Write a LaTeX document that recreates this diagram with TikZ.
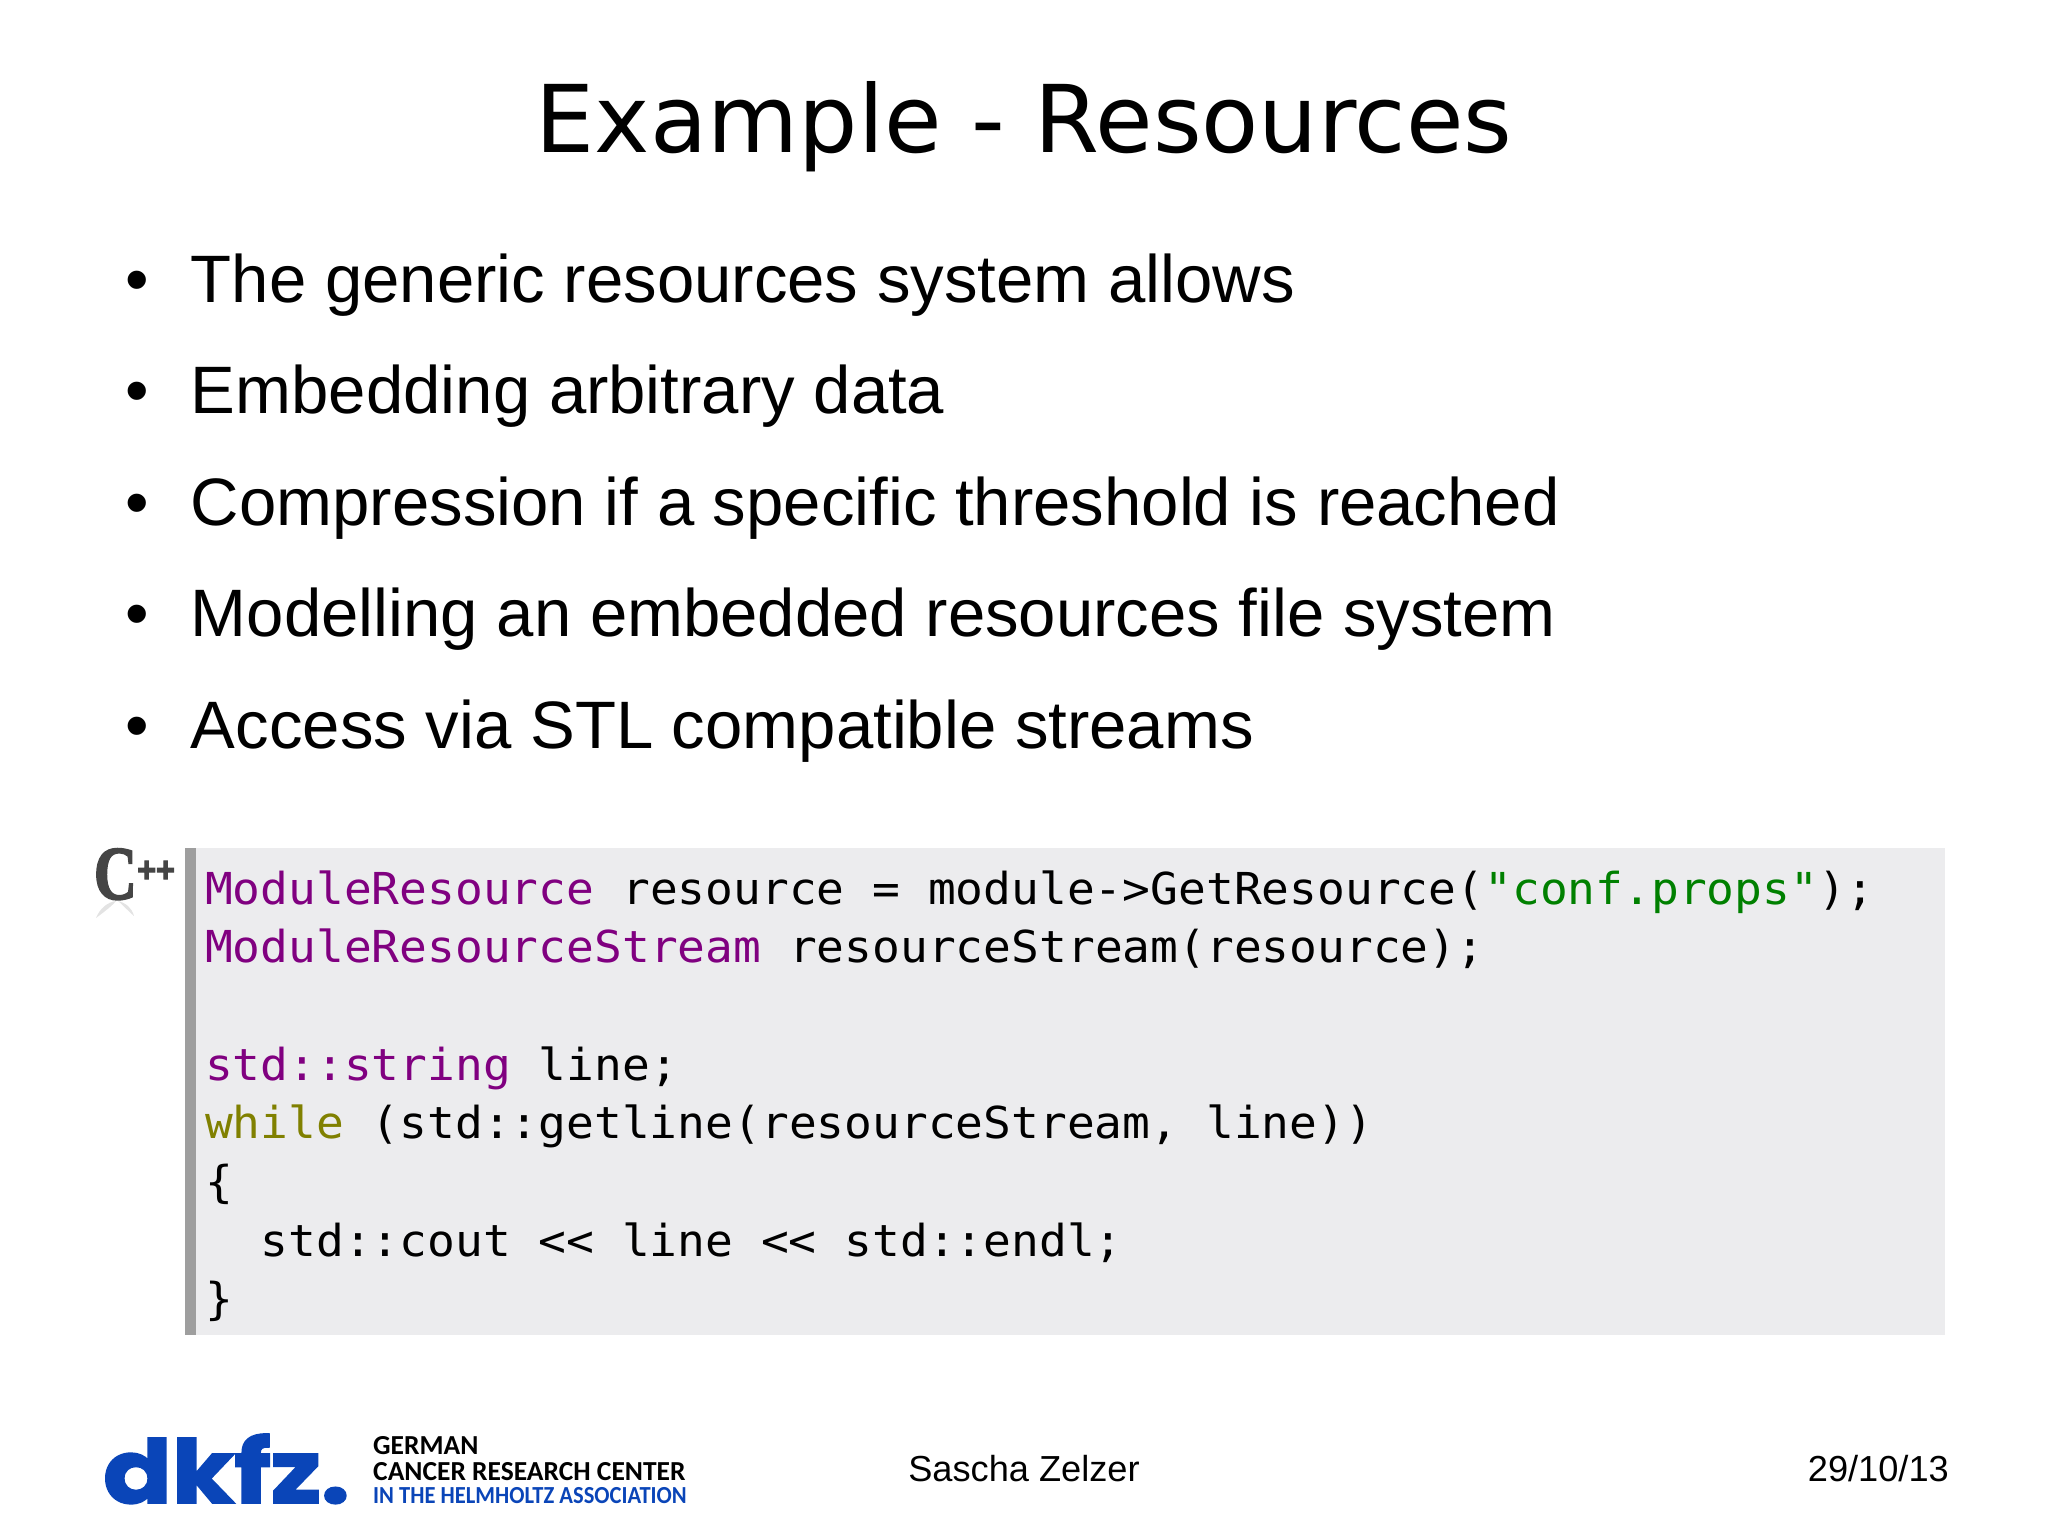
\documentclass[tikz,border=0pt]{standalone}
\usepackage{fontspec}
\usetikzlibrary{calc}
\setmainfont{Liberation Sans}
\newfontfamily\titlefont{DejaVu Sans}
\newfontfamily\codefont{DejaVu Sans Mono}[FakeStretch=1.05]
\newfontfamily\logofont{Poppins}[BoldFeatures={FakeBold=2}]
\newfontfamily\orgfont{Carlito}
\newfontfamily\markfont{Liberation Serif}[BoldFeatures={FakeBold=2.5}]
\newfontfamily\plusfont{Liberation Sans}[BoldFeatures={FakeBold=3}]
\definecolor{p}{rgb}{0.5,0,0.5}
\definecolor{o}{rgb}{0.5,0.5,0}
\definecolor{g}{rgb}{0,0.5,0}
\definecolor{box}{rgb}{0.925,0.925,0.935}
\definecolor{bar}{rgb}{0.62,0.62,0.62}
\definecolor{logo}{rgb}{0.04,0.27,0.72}
\definecolor{mark}{rgb}{0.27,0.27,0.27}
\newcommand{\codeset}{\fontsize{44}{46}\codefont\spaceskip 27.8pt\relax}
\tikzstyle{point}=[text width=1500pt,inner sep=0pt,align=flush left,text height=50pt,text depth=14pt,font=\fontsize{67.1}{70}\selectfont]
\tikzstyle{code}=[text width=1700pt,inner sep=0pt,align=flush left,text height=34pt,text depth=10pt,font=\codeset]
\tikzstyle{org}=[inner sep=0pt,anchor=base west,font=\fontsize{27.5}{30}\orgfont\bfseries]
\tikzstyle{foot}=[inner sep=0pt,anchor=base,font=\fontsize{36.2}{38}\selectfont]
\newcommand{\dotbox}{\makebox[64pt][l]{\hspace*{-2pt}\textbullet}}

\begin{document}
\begin{tikzpicture}[x=1pt,y=-1pt,node distance=111.6pt]
	\useasboundingbox (0,0) rectangle (2048,1535);
	\node[inner sep=0pt,anchor=base,font=\fontsize{93.5}{96}\titlefont] (title) at (1024,152) {Example - Resources};
	% bullet list
	\node[point] (b1) at (877,284) {\dotbox The generic resources system allows};
	\node[point] (b2) [below of=b1] {\dotbox Embedding arbitrary data};
	\node[point] (b3) [below of=b2] {\dotbox Compression if a specific threshold is reached};
	\node[point] (b4) [below of=b3] {\dotbox Modelling an embedded resources file system};
	\node[point] (b5) [below of=b4] {\dotbox Access via STL compatible streams};
	% code box
	\fill[box] (185,848) rectangle (1945,1335);
	\fill[bar] (185,848) rectangle (196,1335);
	\node[code] (l1) at (1055,892) {\textcolor{p}{ModuleResource} resource = module->GetResource(\textcolor{g}{"conf.props"});};
	\node[code] (l2) [below of=l1,node distance=58.7pt] {\textcolor{p}{ModuleResourceStream} resourceStream(resource);};
	\node[code] (l4) [below of=l2,node distance=117.4pt] {\textcolor{p}{std::string} line;};
	\node[code] (l5) [below of=l4,node distance=58.7pt] {\textcolor{o}{while} (std::getline(resourceStream, line))};
	\node[code] (l6) [below of=l5,node distance=58.7pt] {\{};
	\node[code] (l7) [below of=l6,node distance=58.7pt] {\hspace*{55.6pt}std::cout <{}< line <{}< std::endl;};
	\node[code] (l8) [below of=l7,node distance=58.7pt] {\}};
	% c++ mark
	\fill[gray!22] (96,918) .. controls (100,908) and (108,902) .. (116,901) .. controls (112,906) and (104,912) .. (96,918);
	\fill[gray!22] (134,916) .. controls (132,908) and (126,903) .. (118,901) .. controls (124,906) and (128,911) .. (134,916);
	\node[inner sep=0pt,anchor=base east,font=\fontsize{76}{76}\markfont\bfseries,text=mark] (cpp) at (137,899) {\scalebox{.78}[1]{C}};
	\node[inner sep=0pt,anchor=base west,font=\fontsize{36}{36}\plusfont\bfseries,text=mark] (plus) at (137,882) {\scalebox{.9}[1]{++}};
	% footer
	\node[inner sep=0pt,anchor=base west,font=\fontsize{88}{88}\logofont\bfseries,text=logo] (dkfz) at (103,1503) {\scalebox{1.15}[1]{dkfz.}};
	\node[org] (org1) at (373,1454) {GERMAN};
	\node[org] (org2) at (373,1480) {CANCER RESEARCH CENTER};
	\node[org,text=logo,font=\fontsize{24.5}{26}\orgfont\bfseries] (org3) at (373,1503) {\scalebox{.92}[1]{IN THE HELMHOLTZ ASSOCIATION}};
	\node[foot] (name) at (1024,1481) {Sascha Zelzer};
	\node[foot,anchor=base east] (date) at (1949,1481) {29/10/13};
\end{tikzpicture}
\end{document}
